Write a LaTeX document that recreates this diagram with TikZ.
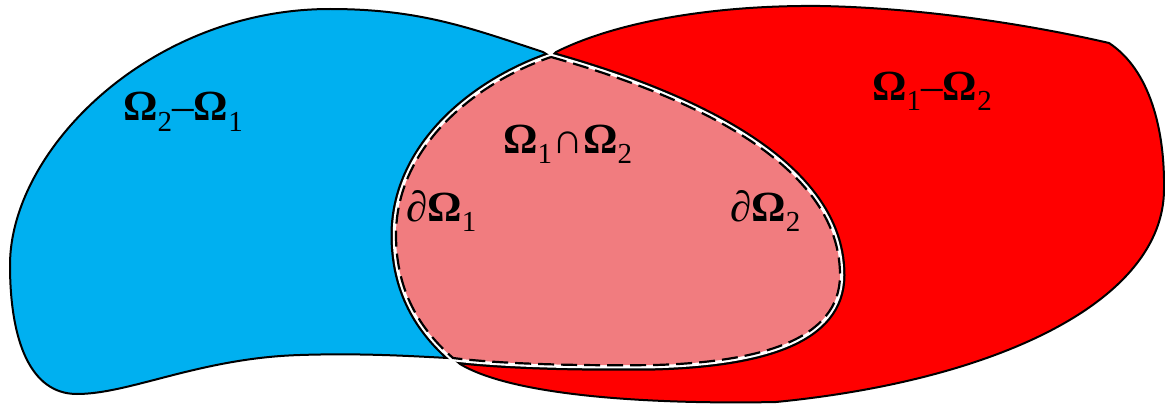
\documentclass[tikz,border=0pt]{standalone}
\usepackage{fontspec}
\setmainfont{Liberation Serif}
\definecolor{omtwo}{RGB}{0,176,240}
\definecolor{omone}{RGB}{255,0,0}
\definecolor{ominter}{RGB}{241,124,127}
\newcommand\OM{\textbf{Ω}}
\newcommand\sbs[1]{\raisebox{-0.24em}{\fontsize{29pt}{29pt}\selectfont #1}}
% boundary of the intersection, from its top point T, clockwise
\def\Ppath{(551,57) .. controls (650,85) and (840,150) .. (840,275)
  .. controls (840,340) and (760,362) .. (655,365)
  .. controls (580,366) and (500,364) .. (453,358)
  .. controls (415,325) and (396,285) .. (396,235)
  .. controls (396,150) and (470,85) .. (551,57) -- cycle}
% Omega_2 (blue)
\def\Bpath{(543,52) .. controls (470,28) and (420,9) .. (330,9)
  .. controls (150,9) and (10,150) .. (10,265)
  .. controls (10,340) and (30,394) .. (77,394)
  .. controls (130,394) and (200,358) .. (300,355)
  .. controls (360,353) and (410,356) .. (448,358)
  -- (453,358)
  .. controls (415,325) and (396,285) .. (396,235)
  .. controls (396,150) and (470,85) .. (551,57) -- cycle}
% Omega_1 (red)
\def\Rpath{(551,57) -- (556,52) .. controls (620,20) and (720,5) .. (820,6)
  .. controls (930,8) and (1040,27) .. (1109,43)
  .. controls (1150,70) and (1165,130) .. (1164,190)
  .. controls (1163,300) and (1000,380) .. (776,402)
  .. controls (680,404) and (520,400) .. (460,364)
  -- (453,358)
  .. controls (500,364) and (580,366) .. (655,365)
  .. controls (760,362) and (840,340) .. (840,275)
  .. controls (840,150) and (650,85) .. (551,57) -- cycle}
\tikzset{
  outline/.style={draw=black, line width=2pt, line join=round},
  lbl/.style={anchor=base west, inner sep=0pt, font=\fontsize{43pt}{43pt}\selectfont},
}
\begin{document}
\begin{tikzpicture}[x=1pt,y=-1pt]
\useasboundingbox (0,0) rectangle (1165,404);
\fill[omtwo] \Bpath;
\fill[omone] \Rpath;
\begin{scope}
  \clip \Bpath \Rpath;
  \draw[black, line width=11pt, line join=round] \Ppath;
\end{scope}
\draw[outline] \Bpath;
\draw[outline] \Rpath;
\draw[white, line width=6.5pt, line join=round] \Ppath;
\fill[ominter] \Ppath;
\draw[black, line width=2.2pt, dash pattern=on 16pt off 7pt] \Ppath;
\node[lbl] (d21) at (123,121) {\OM\sbs{2}–\OM\sbs{1}};
\node[lbl] (d12) at (872,100) {\OM\sbs{1}–\OM\sbs{2}};
\node[lbl] (cap) at (503,153) {\OM\sbs{1}∩\OM\sbs{2}};
\node[lbl] (b1) at (406,221) {{\itshape ∂}\OM\sbs{1}};
\node[lbl] (b2) at (730,221) {{\itshape ∂}\OM\sbs{2}};
\end{tikzpicture}
\end{document}
